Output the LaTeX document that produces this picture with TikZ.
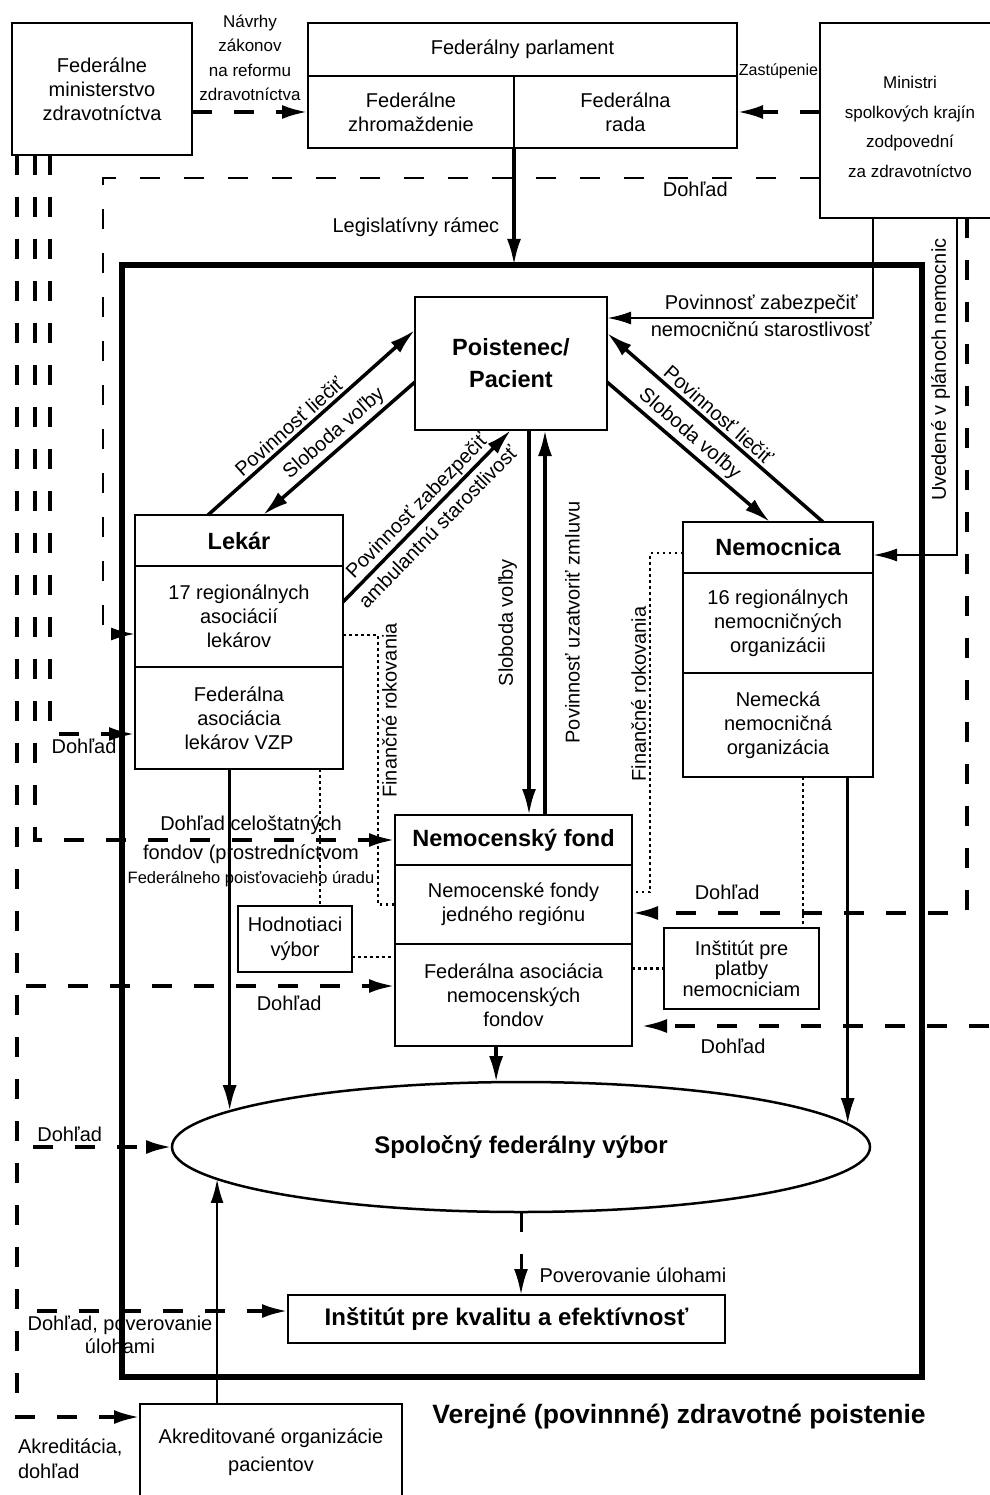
\documentclass[tikz,border=0pt]{standalone}
\usepackage{fontspec}
\setmainfont{Liberation Sans}
\usetikzlibrary{arrows.meta,positioning,shapes.geometric}

\begin{document}
\begin{tikzpicture}[x=1pt,y=-1pt,
  font=\fontsize{20}{24}\selectfont,
  org/.style={draw,line width=2.5pt,outer sep=0pt,inner sep=2pt,align=center},
  orghead/.style={org,font=\fontsize{23.5}{32}\selectfont\bfseries},
  lbl/.style={inner sep=3pt,align=center},
  vlbl/.style={rotate=90,inner sep=3pt},
  rel/.style={line width=3.5pt,-{Latex[length=26pt,width=14pt]}},
  relthin/.style={line width=2.5pt,-{Latex[length=24pt,width=13pt]}},
  dohl/.style={line width=4pt,dash pattern=on 20pt off 22pt,-{Latex[length=26pt,width=14pt]}},
  dohlthin/.style={line width=2.6pt,dash pattern=on 20pt off 24pt,-{Latex[length=24pt,width=13pt]}},
  fin/.style={line width=2.2pt,dash pattern=on 2.5pt off 3.5pt},
]
  \useasboundingbox (0,0) rectangle (989,1495);
  \node[draw,line width=5.5pt,outer sep=0pt,minimum width=800pt,minimum height=1112pt] (vzp) at (522,821) {};
  \node[font=\fontsize{26.5}{30}\selectfont\bfseries] (vzpt) at (679,1417) {Verejné (povinnné) zdravotné poistenie};

  \node[org,minimum width=180pt,minimum height=132pt] (min) at (102,89) {Federálne\\ministerstvo\\zdravotníctva};
  \node[org,minimum width=429pt,minimum height=53pt] (parh) at (522.5,49.5) {Federálny parlament};
  \node[org,minimum width=206pt,minimum height=72pt,below right=0pt and 0pt of parh.south west] (zhr) {Federálne\\zhromaždenie};
  \node[org,minimum width=223pt,minimum height=72pt,right=0pt of zhr] (rada) {Federálna\\rada};
  \node[org,minimum width=180pt,minimum height=195pt,text height=114pt,font=\fontsize{17}{29.5}\selectfont] (mk) at (910,120.5) {Ministri\\spolkových krajín\\zodpovední\\za zdravotníctvo};

  \node[orghead,minimum width=192pt,minimum height=133pt] (pac) at (511,363.5) {Poistenec/\\Pacient};
  \node[orghead,minimum width=208pt,minimum height=51pt] (lekh) at (239,540.5) {Lekár};
  \node[org,minimum width=208pt,minimum height=101pt,below=0pt of lekh] (lek2) {17 regionálnych\\asociácií\\lekárov};
  \node[org,minimum width=208pt,minimum height=102pt,below=0pt of lek2] (lek3) {Federálna\\asociácia\\lekárov VZP};
  \node[orghead,minimum width=190pt,minimum height=51pt] (nemh) at (778,547.5) {Nemocnica};
  \node[org,minimum width=190pt,minimum height=100pt,below=0pt of nemh] (nem2) {16 regionálnych\\nemocničných\\organizácii};
  \node[org,minimum width=190pt,minimum height=104pt,below=0pt of nem2] (nem3) {Nemecká\\nemocničná\\organizácia};
  \node[orghead,minimum width=237pt,minimum height=50pt] (nfh) at (513.5,840) {Nemocenský fond};
  \node[org,minimum width=237pt,minimum height=79pt,below=0pt of nfh] (nf2) {Nemocenské fondy\\jedného regiónu};
  \node[org,minimum width=237pt,minimum height=102pt,below=0pt of nf2] (nf3) {Federálna asociácia\\nemocenských\\fondov};
  \node[org,minimum width=114pt,minimum height=66pt,font=\fontsize{20}{25}\selectfont] (hv) at (295,939) {Hodnotiaci\\výbor};
  \node[org,minimum width=155pt,minimum height=81pt,font=\fontsize{20}{20.5}\selectfont] (ipn) at (741.5,968.5) {Inštitút pre\\platby\\nemocniciam};
  \node[ellipse,draw,line width=2.5pt,outer sep=0pt,inner sep=0pt,minimum width=698pt,minimum height=130pt,font=\fontsize{24}{28}\selectfont\bfseries] (gba) at (521,1147) {Spoločný federálny výbor};
  \node[org,minimum width=437pt,minimum height=48pt,font=\fontsize{24}{28}\selectfont\bfseries] (iq) at (506.5,1319) {Inštitút pre kvalitu a efektívnosť};
  \node[org,minimum width=262pt,minimum height=96pt,font=\fontsize{20}{28}\selectfont] (apo) at (271,1452) {Akreditované organizácie\\pacientov};

  \coordinate (laneA) at (17,0);
  \coordinate (laneB) at (35,0);
  \coordinate (laneC) at (50,0);
  \coordinate (laneD) at (103,0);
  \coordinate (laneH) at (378,0);
  \coordinate (laneI) at (650,0);
  \coordinate (laneG) at (873,0);
  \coordinate (laneF) at (957,0);
  \coordinate (laneE) at (967,0);
  \coordinate (redge) at (989,1026);
  \coordinate (mkd) at ([yshift=-57.5pt]mk.west);
  \coordinate (lekd) at ([yshift=-17.5pt]lek2.west);
  \coordinate (lekm) at ([yshift=-16pt]lek3.west);
  \coordinate (lekf) at ([yshift=-18.5pt]lek2.east);
  \coordinate (pacm) at ([yshift=45.5pt]pac.east);
  \coordinate (pacL) at ([xshift=18pt]pac.south);
  \coordinate (pacR) at ([xshift=34pt]pac.south);
  \coordinate (nemm) at ([yshift=-7.5pt]nemh.east);
  \coordinate (nemf) at ([yshift=-5.5pt]nemh.west);
  \coordinate (nfm) at ([yshift=-8.5pt]nf2.east);
  \coordinate (nff) at ([yshift=12.5pt]nf2.east);
  \coordinate (nfA) at ([yshift=9pt]nf3.west);
  \coordinate (hvtop) at ([xshift=25pt]hv.north);
  \coordinate (hvr) at ([yshift=-18pt]hv.east);
  \coordinate (ipntop) at ([xshift=61.5pt]ipn.north);
  \coordinate (iqA) at ([yshift=8pt]iq.west);
  \coordinate (apoA) at ([yshift=35pt]apo.west);

  \draw[dohl] (zhr.west -| min.east) -- node[lbl,above=6pt,font=\fontsize{17}{24.5}\selectfont]{Návrhy\\zákonov\\na reformu\\zdravotníctva} (zhr.west);
  \draw[dohl] (rada.east -| mk.west) -- node[lbl,above=28pt,font=\fontsize{16}{19}\selectfont]{Zastúpenie} (rada.east);
  \draw[rel] (zhr.south east) -- node[lbl,left=10pt,pos=0.68]{Legislatívny rámec} (zhr.south east |- vzp.north);
  \draw[dohlthin] (mkd) -| node[lbl,below,pos=0.087]{Dohľad} (laneD |- lekd) -- (lekd);
  \draw[relthin] (mk.south -| laneG) |- node[lbl,above,pos=0.71]{Povinnosť zabezpečiť} node[lbl,below,pos=0.71]{nemocničnú starostlivosť} (pacm);
  \draw[relthin] (mk.south -| laneF) |- node[vlbl,anchor=south,outer sep=4pt,pos=0.225]{Uvedené v plánoch nemocnic} (nemm);
  \draw[dohl] (mk.south -| laneE) |- node[lbl,above=8pt,pos=0.858]{Dohľad} (nfm);
  \draw[dohl,shorten >=9pt] (redge) -- node[lbl,below=8pt,pos=0.717]{Dohľad} (redge -| nf3.east);

  \draw[rel] ([xshift=-31pt]lekh.north) -- node[lbl,sloped,above,pos=0.43]{Povinnosť liečiť} ([yshift=33.5pt]pac.west);
  \draw[rel] ([yshift=-18.5pt]pac.west) -- node[lbl,sloped,above,pos=0.47]{Sloboda voľby} ([xshift=24pt]lekh.north);
  \draw[rel] ([yshift=14.5pt]lek2.east) -- node[lbl,sloped,font=\fontsize{20}{30}\selectfont]{Povinnosť zabezpečiť\\ambulantnú starostlivosť} (pac.south);
  \draw[rel] ([xshift=45pt]nemh.north) -- node[lbl,sloped,above,pos=0.52]{Povinnosť liečiť} ([yshift=30.5pt]pac.east);
  \draw[rel] ([yshift=-18.5pt]pac.east) -- node[lbl,sloped,above,pos=0.45]{Sloboda voľby} ([xshift=-8pt]nemh.north);
  \draw[rel] (pacL) -- node[vlbl,anchor=south,outer sep=9pt]{Sloboda voľby} (pacL |- nfh.north);
  \draw[rel] (pacR |- nfh.north) -- node[vlbl,anchor=north,outer sep=17pt]{Povinnosť uzatvoriť zmluvu} (pacR);

  \draw[fin] (lekf) -| node[vlbl,anchor=north,outer sep=1pt,pos=0.64]{Finančné rokovania} (laneH |- nf2.west) -- (nf2.west);
  \draw[fin] (nemf) -| node[vlbl,anchor=south,outer sep=1pt,pos=0.708]{Finančné rokovania} (laneI |- nff) -- (nff);
  \draw[fin] (lek3.south -| hvtop) -- (hvtop);
  \draw[fin] (hvr) -- (hvr -| nf3.west);
  \draw[fin] (ipn.west -| nf3.east) -- (ipn.west);
  \draw[fin] (nem3.south -| ipntop) -- (ipntop);

  \draw[dohl] (min.south -| laneC) |- node[lbl,below,pos=0.7]{Dohľad} (lekm);
  \draw[dohl] (min.south -| laneB) |- node[lbl,above,pos=0.8]{Dohľad celoštatných} node[lbl,below,pos=0.8]{fondov (prostredníctvom\\{\fontsize{16.5}{20}\selectfont Federálneho poisťovacieho úradu}} (nfh.west);
  \draw[dohl] (min.south -| laneA) |- node[lbl,below=5pt,pos=0.86]{Dohľad} (nfA);
  \draw[dohl] (min.south -| laneA) |- node[lbl,above,pos=0.67]{Dohľad} (gba.west);
  \draw[dohl] (min.south -| laneA) |- node[lbl,below,pos=0.69,font=\fontsize{20}{23}\selectfont]{Dohľad, poverovanie\\úlohami} (iqA);
  \draw[dohl] (min.south -| laneA) |- node[lbl,below right,pos=0.5,align=left,xshift=-4pt,yshift=-17pt,font=\fontsize{20}{25}\selectfont]{Akreditácia,\\dohľad} (apoA);

  \draw[rel] (lek3.south -| gba.173.4) -- (gba.173.4);
  \draw[rel] (nem3.south -| gba.4.9) -- (gba.4.9);
  \draw[rel] (nf3.south -| gba.111) -- (gba.111);
  \draw[relthin] (apo.north -| gba.186.6) -- (gba.186.6);
  \draw[dohl,line width=3pt] (gba.south) -- node[lbl,right=14pt,pos=0.76]{Poverovanie úlohami} (gba.south |- iq.north);
\end{tikzpicture}
\end{document}
